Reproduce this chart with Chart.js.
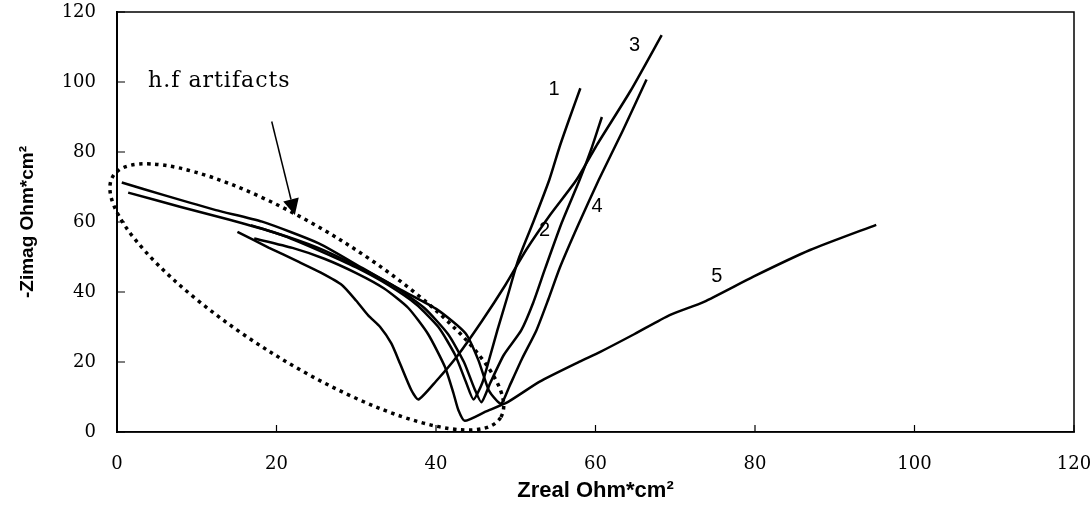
<!DOCTYPE html>
<html>
<head>
<meta charset="utf-8">
<script src="https://cdn.jsdelivr.net/npm/chart.js@4.4.0/dist/chart.umd.min.js"></script>
<style>
  html, body { margin: 0; padding: 0; background: #fff; }
</style>
</head>
<body>
<canvas id="nyquist" width="1092" height="508"></canvas>
<script>
// Nyquist curves (Zreal, -Zimag in Ohm*cm2)
var curve1X = [16.8, 21, 25.5, 30, 34, 37.5, 40.3, 42.4, 43.8, 44.7, 45.8, 46.7, 47.7, 49, 50.3, 52.2, 54.2, 55.5, 56.8, 58.1];
var curve1Y = [59.1, 56, 51.7, 47, 42, 36.5, 30, 22, 14, 9.3, 14, 21, 29.1, 39, 49.1, 60, 72, 81.5, 90, 98.2];

var curve2X = [1.4, 8, 14, 20, 25, 30, 34.5, 38.5, 41.5, 43.5, 44.8, 45.7, 46.8, 48.5, 50.7, 52.2, 53.7, 55.8, 58, 59.5, 60.8];
var curve2Y = [68.4, 64.3, 60.7, 56.8, 52.8, 47.5, 42, 35.5, 28, 20, 12.5, 8.5, 14, 22, 29.1, 37, 46.8, 60, 72, 81, 90];

var curve3X = [15.1, 19, 22.8, 25.5, 28.2, 30, 31.5, 33, 34.4, 35.5, 36.9, 37.8, 40, 42.6, 45.7, 48.7, 51.3, 54.3, 57.6, 60.3, 64.4, 68.3];
var curve3Y = [57.2, 52.7, 48.6, 45.6, 42, 37.5, 33.3, 30, 25.3, 19.5, 12, 9.3, 14.5, 21.5, 31.5, 42, 52, 62, 72, 82.5, 97.5, 113.4];

var curve4X = [0.6, 6, 12.4, 18.2, 25.3, 30.8, 35.6, 40.2, 43.7, 45.3, 46.6, 47.6, 48.2, 49.2, 50.8, 52.6, 54.1, 55.5, 57.8, 60.4, 63.4, 66.4];
var curve4Y = [71.3, 67.6, 63.4, 60.1, 53.9, 46.8, 40.6, 34.9, 28.2, 20.6, 12, 9, 8, 13, 21, 29.1, 38, 46.8, 59, 72, 86, 100.7];

var curve5X = [17.2, 22, 26, 30, 33.5, 36.5, 39, 41.1, 42.2, 42.8, 43.6, 46.2, 49.1, 53, 58, 60.6, 64.9, 69.3, 73.6, 79.8, 86.9, 95.2];
var curve5Y = [55.3, 52.6, 49.5, 45.4, 41, 35.5, 28, 18.7, 11, 6.3, 3.2, 5.8, 8.7, 14.4, 20.1, 22.9, 28, 33.4, 37.2, 44.4, 52, 59.2];

var curveNames = ['1', '2', '3', '4', '5'];
var nameX = [54.8, 53.6, 64.9, 60.2, 75.2];
var nameY = [97.8, 57.7, 110.3, 64.4, 44.4];

var xTicks = [0, 20, 40, 60, 80, 100, 120];
var yTicks = [0, 20, 40, 60, 80, 100, 120];

// annotation: dotted ellipse around the h.f. part, arrow and note
var ringCenter = [23.8, 38.6];
var ringMajorEnd = [48.1, 4.1];
var ringMinorEnd = [19.4, 22.6];
var arrowFrom = [19.4, 88.7];
var arrowTo = [22.3, 62.0];
var noteText = 'h.f artifacts';
var notePos = [3.9, 100.3];

function pairs(xs, ys) {
    return xs.map(function (x, i) { return { x: x, y: ys[i] }; });
}

var curves = [
    pairs(curve1X, curve1Y),
    pairs(curve2X, curve2Y),
    pairs(curve3X, curve3Y),
    pairs(curve4X, curve4Y),
    pairs(curve5X, curve5Y)
];

var decorations = {
    id: 'decorations',
    afterDatasetsDraw: function (chart) {
        var ctx = chart.ctx;
        var xs = chart.scales.x, ys = chart.scales.y;
        var area = chart.chartArea;
        var px = function (v) { return xs.getPixelForValue(v); };
        var py = function (v) { return ys.getPixelForValue(v); };

        ctx.save();
        // frame
        ctx.strokeStyle = '#000';
        ctx.lineWidth = 1.5;
        ctx.strokeRect(area.left, area.top, area.right - area.left, area.bottom - area.top);

        // inward tick marks
        ctx.lineWidth = 1.2;
        ctx.beginPath();
        xTicks.forEach(function (t) {
            ctx.moveTo(px(t), area.bottom);
            ctx.lineTo(px(t), area.bottom - 7);
        });
        yTicks.forEach(function (t) {
            ctx.moveTo(area.left, py(t));
            ctx.lineTo(area.left + 8, py(t));
        });
        ctx.stroke();

        // curve numbers
        ctx.fillStyle = '#000';
        ctx.font = '20px "Liberation Sans", Arial, sans-serif';
        ctx.textAlign = 'center';
        ctx.textBaseline = 'middle';
        curveNames.forEach(function (n, i) {
            ctx.fillText(n, px(nameX[i]), py(nameY[i]));
        });

        // note
        ctx.font = '22px "DejaVu Serif", serif';
        ctx.textAlign = 'left';
        ctx.letterSpacing = '1px';
        ctx.fillText(noteText, px(notePos[0]), py(notePos[1]));
        ctx.letterSpacing = '0px';

        // arrow
        var ax0 = px(arrowFrom[0]), ay0 = py(arrowFrom[1]);
        var ax1 = px(arrowTo[0]), ay1 = py(arrowTo[1]);
        var ang = Math.atan2(ay1 - ay0, ax1 - ax0);
        var headLen = 16, headHalf = 8;
        var bx = ax1 - headLen * Math.cos(ang), by = ay1 - headLen * Math.sin(ang);
        ctx.lineWidth = 1.5;
        ctx.beginPath();
        ctx.moveTo(ax0, ay0);
        ctx.lineTo(bx, by);
        ctx.stroke();
        ctx.beginPath();
        ctx.moveTo(ax1, ay1);
        ctx.lineTo(bx + headHalf * Math.sin(ang), by - headHalf * Math.cos(ang));
        ctx.lineTo(bx - headHalf * Math.sin(ang), by + headHalf * Math.cos(ang));
        ctx.closePath();
        ctx.fill();

        // dotted ring
        var cx = px(ringCenter[0]), cy = py(ringCenter[1]);
        var mx = px(ringMajorEnd[0]) - cx, my = py(ringMajorEnd[1]) - cy;
        var nx = px(ringMinorEnd[0]) - cx, ny = py(ringMinorEnd[1]) - cy;
        ctx.lineWidth = 3.5;
        ctx.setLineDash([3.5, 4.5]);
        ctx.beginPath();
        ctx.ellipse(cx, cy, Math.hypot(mx, my), Math.hypot(nx, ny), Math.atan2(my, mx), 0, Math.PI * 2);
        ctx.stroke();
        ctx.restore();
    }
};

new Chart(document.getElementById('nyquist').getContext('2d'), {
    type: 'scatter',
    data: {
        datasets: curves.map(function (pts, i) {
            return {
                label: curveNames[i],
                data: pts,
                showLine: true,
                borderColor: '#000',
                backgroundColor: '#000',
                borderWidth: 2.5,
                pointRadius: 0,
                tension: 0.2
            };
        })
    },
    options: {
        responsive: false,
        animation: false,
        layout: { padding: { left: 0, right: 18, top: 12, bottom: 0 } },
        plugins: {
            legend: { display: false },
            tooltip: { enabled: false }
        },
        scales: {
            x: {
                type: 'linear',
                min: 0,
                max: 120,
                afterBuildTicks: function (scale) {
                    scale.ticks = xTicks.map(function (v) { return { value: v }; });
                },
                afterFit: function (scale) {
                    scale.height = 76;
                    scale.paddingLeft = 0;
                    scale.paddingRight = 0;
                },
                grid: { display: false, drawTicks: false },
                border: { display: true, color: '#000', width: 1.5 },
                ticks: {
                    color: '#000',
                    padding: 22,
                    maxRotation: 0,
                    font: { family: '"DejaVu Serif", serif', size: 18 }
                },
                title: {
                    display: true,
                    text: 'Zreal Ohm*cm²',
                    color: '#000',
                    padding: { top: 0, bottom: 4 },
                    font: { family: '"Liberation Sans", Arial, sans-serif', size: 22, weight: 'bold' }
                }
            },
            y: {
                type: 'linear',
                min: 0,
                max: 120,
                afterBuildTicks: function (scale) {
                    scale.ticks = yTicks.map(function (v) { return { value: v }; });
                },
                afterFit: function (scale) {
                    scale.width = 117;
                    scale.paddingTop = 0;
                    scale.paddingBottom = 0;
                },
                grid: { display: false, drawTicks: false },
                border: { display: true, color: '#000', width: 2 },
                ticks: {
                    color: '#000',
                    padding: 21,
                    font: { family: '"DejaVu Serif", serif', size: 18 }
                },
                title: {
                    display: true,
                    text: '-Zimag Ohm*cm²',
                    color: '#000',
                    padding: { top: 16, bottom: 0 },
                    font: { family: '"Liberation Sans", Arial, sans-serif', size: 19, weight: 'bold' }
                }
            }
        }
    },
    plugins: [decorations]
});
</script>
</body>
</html>
